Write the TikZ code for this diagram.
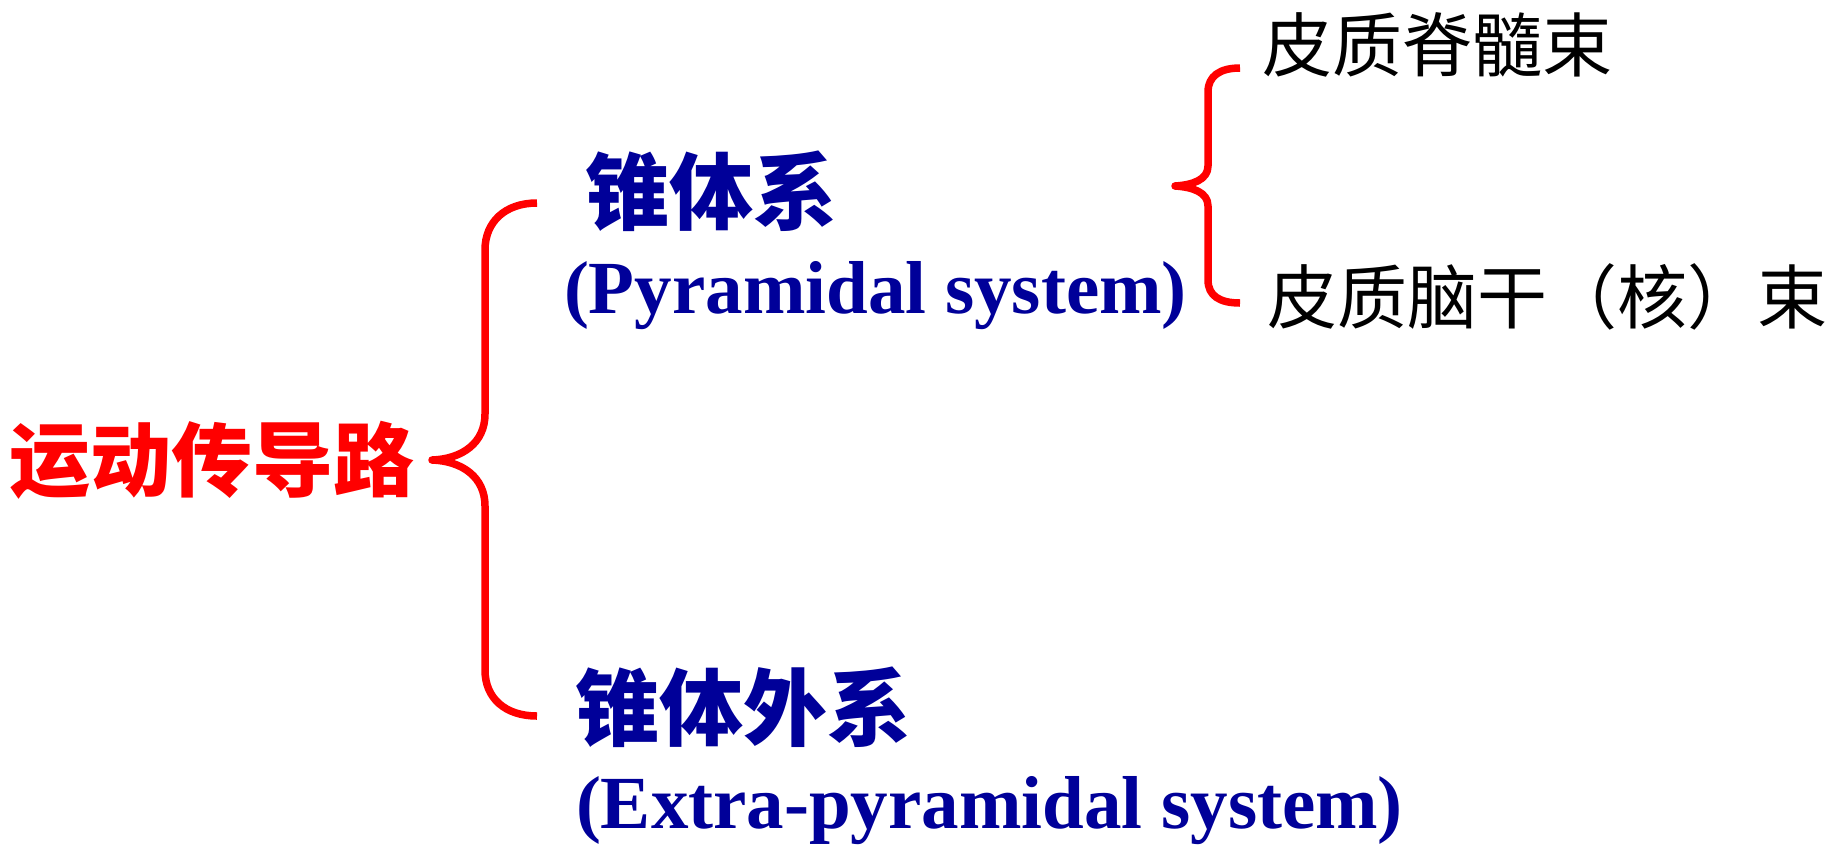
\documentclass[tikz,border=0pt]{standalone}
\usepackage{fontspec}
\setmainfont{Liberation Serif}
\newfontfamily\cjk{Noto Sans CJK SC}
\definecolor{brred}{RGB}{255,0,0}
\definecolor{navy}{RGB}{0,0,153}
\tikzset{
  lbl/.style={inner sep=0pt, outer sep=0pt},
  rootlbl/.style={lbl, text=brred, font=\cjk\bfseries\fontsize{81}{90}\selectfont},
  mainlbl/.style={lbl, text=navy, font=\cjk\bfseries\fontsize{84}{92}\selectfont},
  enlbl/.style={lbl, anchor=base west, text=navy, font=\bfseries\fontsize{75}{80}\selectfont},
  leaflbl/.style={lbl, text=black, font=\cjk\fontsize{70}{78}\selectfont},
  brace/.style={draw=brred, line width=7.5pt, line cap=butt, line join=round}
}
\begin{document}
\begin{tikzpicture}[x=1pt, y=-1pt]
\useasboundingbox (0,0) rectangle (1841,844);
\fill[white] (0,0) rectangle (1841,844);

% labels
\node[rootlbl] (root) at (212,460) {运动传导路};
\node[mainlbl] (pyr) at (711,191) {锥体系};
\node[enlbl] (pyren) at (564,313) {(Pyramidal system)};
\node[mainlbl] (extra) at (743.5,707.5) {锥体外系};
\node[enlbl] (extraen) at (576,828) {(Extra-pyramidal system)};
\node[leaflbl] (cst) at (1437.5,44.5) {皮质脊髓束};
\node[leaflbl] (cbt) at (1547.5,296.5) {皮质脑干（核）束};

% big brace
\coordinate (b1top) at (537,203);
\coordinate (b1tip) at (432,460);
\coordinate (b1bot) at (537,716);
\draw[brace] (b1top) .. controls (505,203) and (485,222) .. (485,250)
  -- (485,414) .. controls (485,443) and (462,459) .. (b1tip)
  .. controls (462,461) and (485,477) .. (485,506)
  -- (485,670) .. controls (485,698) and (505,716) .. (b1bot);

% small brace
\coordinate (b2top) at (1240,68);
\coordinate (b2tip) at (1175,186);
\coordinate (b2bot) at (1240,303);
\draw[brace] (b2top) .. controls (1220,68) and (1208,76) .. (1208,92)
  -- (1208,166) .. controls (1208,180) and (1192,185) .. (b2tip)
  .. controls (1192,187) and (1208,192) .. (1208,206)
  -- (1208,280) .. controls (1208,296) and (1220,303) .. (b2bot);
\end{tikzpicture}
\end{document}
